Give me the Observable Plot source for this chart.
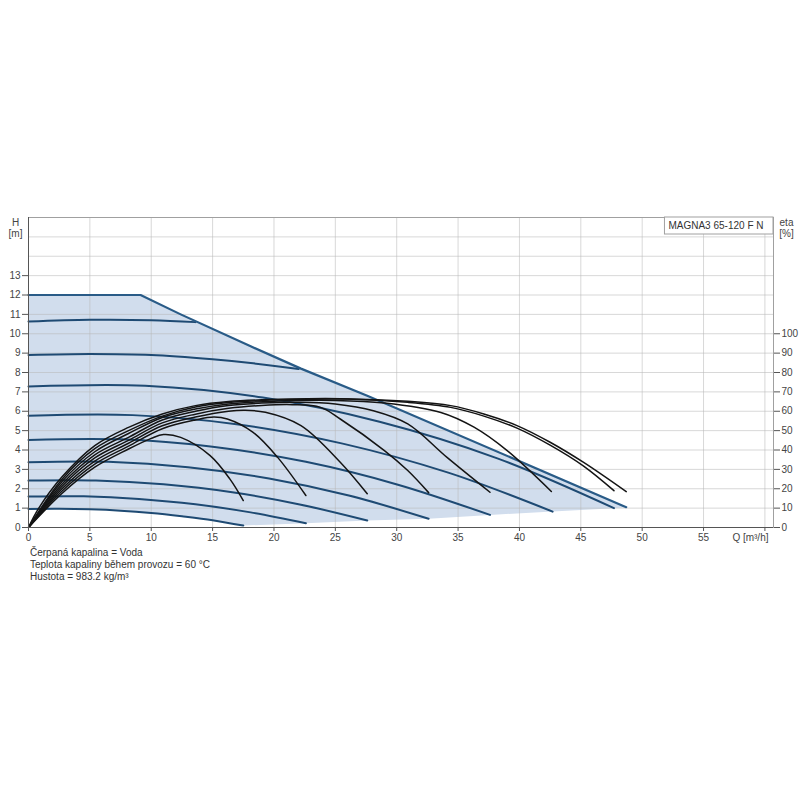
<!DOCTYPE html>
<html><head><meta charset="utf-8">
<script src="https://cdn.jsdelivr.net/npm/d3@7"></script>
<script src="https://cdn.jsdelivr.net/npm/@observablehq/plot@0.6"></script>
<style>
body{margin:0;background:#fff;font-family:"Liberation Sans",Arial,sans-serif;}
#wrap{position:relative;width:800px;height:800px;background:#fff;}
#cap{position:absolute;left:30px;top:547px;font-size:10px;line-height:12px;color:#333;}
</style></head><body>
<div id="wrap"><div id="cap">Čerpaná kapalina = Voda<br>Teplota kapaliny během provozu = 60 °C<br>Hustota = 983.2 kg/m³</div></div>
<script>
// ---- axes / ticks ----
const xTicks = [0,5,10,15,20,25,30,35,40,45,50,55,60];
const xGrid = [5,10,15,20,25,30,35,40,45,50,55,60];
const yTicks = [0,1,2,3,4,5,6,7,8,9,10,11,12,13];
const yGrid = [1,2,3,4,5,6,7,8,9,10,11,12,13,14,15];
const etaTicks = [0,10,20,30,40,50,60,70,80,90,100];
const title = "MAGNA3 65-120 F N";

// ---- max curve (upper limit of operating range) ----
const maxQ = [0, 9.13, 12.4, 18.1, 22.2, 27.6, 48.7];
const maxH = [12, 12, 11.0, 9.35, 8.2, 6.8, 1.05];

// ---- constant curves (Q in m3/h, H in m) ----
const curveQ = [
  [0, 2.5, 5, 7.5, 10, 12.5, 15, 17.5],
  [0, 4.5, 9, 13.6, 18.1, 22.6],
  [0, 5.5, 11, 16.6, 22.1, 27.6],
  [0, 6.5, 13, 19.6, 26.1, 32.6],
  [0, 7.5, 15, 22.6, 30.1, 37.6],
  [0, 8.5, 17.1, 25.6, 34.2, 42.7],
  [0, 9.5, 19.1, 28.6, 38.2, 47.7],
  [0, 5, 10, 15, 18.1, 22],
  [0, 5, 10, 13.6]
];
const curveH = [
  [0.96, 0.97, 0.94, 0.87, 0.75, 0.58, 0.38, 0.1],
  [1.6, 1.61, 1.475, 1.2, 0.78, 0.22],
  [2.42, 2.43, 2.23, 1.82, 1.19, 0.36],
  [3.37, 3.39, 3.11, 2.53, 1.65, 0.45],
  [4.52, 4.55, 4.17, 3.39, 2.21, 0.65],
  [5.77, 5.8, 5.32, 4.33, 2.83, 0.82],
  [7.28, 7.32, 6.71, 5.46, 3.57, 1.0],
  [8.9, 8.95, 8.9, 8.68, 8.49, 8.18],
  [10.63, 10.72, 10.7, 10.6]
];

// ---- efficiency curves (Q in m3/h, eta in %) ----
const effQ = [
  [0, 2.7, 5.4, 8.15, 10, 11, 12.4, 14.8, 16.4, 17.5],
  [0, 2.7, 5.4, 8.15, 10.9, 13.6, 15.1, 16.2, 18.3, 20.3, 22.6],
  [0, 2.7, 5.4, 8.15, 10.9, 13.6, 16.3, 17.6, 19.3, 22.2, 25.4, 27.6],
  [0, 2.7, 5.4, 8.15, 10.9, 13.6, 16.3, 19, 21.5, 23.8, 25.4, 29.0, 30.9, 32.6],
  [0, 2.7, 5.4, 8.15, 10.9, 13.6, 16.3, 19, 22, 25, 28.1, 30.9, 34.1, 37.6],
  [0, 2.7, 5.4, 8.15, 10.9, 13.6, 16.3, 20, 25, 29, 33.6, 36.3, 39.0, 42.6],
  [0, 2.7, 5.4, 8.15, 10.9, 13.6, 16.3, 21.2, 26, 30.9, 34.4, 37.1, 39.8, 42.5, 45.2, 47.7],
  [0, 0.8, 2.7, 5.4, 8.15, 10.9, 13.6, 16.3, 21.2, 25.4, 30.9, 34.4, 37.1, 39.8, 42.5, 45.2, 48.7]
];
const effEta = [
  [0, 17.4, 31.1, 40.5, 46, 48, 46.5, 37.1, 25.1, 13.9],
  [0, 18.6, 32.7, 42.0, 51.0, 55.5, 57.0, 56.0, 49.1, 36.2, 16.5],
  [0, 19.8, 34.3, 43.5, 52.5, 57.0, 60.0, 60.5, 59.5, 52.6, 33.7, 17.4],
  [0, 21.0, 35.9, 45.0, 54.0, 58.5, 61.5, 63.0, 63.4, 62.0, 56.0, 39.7, 29.4, 18.0],
  [0, 22.2, 37.5, 46.5, 55.5, 60.0, 63.0, 64.2, 64.7, 63.8, 60.3, 53.5, 36.2, 18.2],
  [0, 23.5, 39.1, 48.5, 56.8, 61.2, 63.8, 65.2, 65.6, 64.3, 59.4, 51.8, 39.7, 18.6],
  [0, 24.7, 40.7, 50.0, 57.5, 62.2, 64.5, 66.0, 66.3, 64.6, 62.0, 57.5, 51.3, 42.5, 31.8, 19.0],
  [0, 9.6, 25.9, 42.3, 51.7, 58.6, 62.9, 65.0, 66.3, 66.5, 65.1, 62.9, 58.6, 52.6, 44.0, 33.7, 18.5]
];
const etaPerMetre = 10; // right axis: 10 % per 1 m

// ---- build tables ----
const maxData = maxQ.map((q, i) => ({q, h: maxH[i]}));
const blueData = curveQ.flatMap((qs, k) => qs.map((q, i) => ({id: k, q, h: curveH[k][i]})));
const effData = effQ.flatMap((qs, k) => qs.map((q, i) => ({id: k, q, eta: effEta[k][i]})));
// shaded operating area: max curve, then end points of constant curves, then lowest curve back
const ends = curveQ.slice(0, 7).map((qs, k) => ({q: qs[qs.length - 1], h: curveH[k][qs.length - 1]})).reverse();
const lowest = curveQ[0].map((q, i) => ({q, h: curveH[0][i]})).reverse();
const shade = [...maxData, ...ends, ...lowest];

const font = "Liberation Sans, Arial, sans-serif";
const lbl = {text: d => d, fill: "#444", textAnchor: "middle", lineAnchor: "middle"};
const chart = Plot.plot({
  width: 800, height: 600,
  marginLeft: 28, marginRight: 27, marginTop: 217, marginBottom: 73,
  x: {domain: [0, 60.7]},
  y: {domain: [0, 16]},
  style: {fontFamily: font, fontSize: "10px", color: "#333", background: "white", overflow: "visible"},
  marks: [
    Plot.line(shade, {x: "q", y: "h", fill: "#d1dded", stroke: "none", curve: "linear"}),
    Plot.ruleX(xGrid, {stroke: "#b8b8b8", strokeOpacity: 0.55}),
    Plot.ruleY(yGrid, {stroke: "#b8b8b8", strokeOpacity: 0.55}),
    Plot.line(blueData, {x: "q", y: "h", z: "id", stroke: "#1e4a73", strokeWidth: 2, curve: "catmull-rom"}),
    Plot.line(maxData, {x: "q", y: "h", stroke: "#295b87", strokeWidth: 2.2, curve: "linear"}),
    Plot.line(effData, {x: "q", y: d => d.eta / etaPerMetre, z: "id", stroke: "#141414", strokeWidth: 1.5, curve: "catmull-rom"}),
    Plot.frame({stroke: "#a0a0a0"}),
    Plot.ruleX([0], {stroke: "#555"}),
    Plot.ruleY([0], {stroke: "#555"}),
    Plot.axisX(xTicks, {anchor: "bottom", tickSize: 4, tickPadding: 2, label: null, stroke: "#555", fill: "#444",
      tickFormat: d => d === 60 ? "" : d}),
    Plot.axisY(yTicks, {anchor: "left", tickSize: 6, tickPadding: 2, label: null, stroke: "#555", fill: "#444"}),
    Plot.axisY(etaTicks.map(e => e / etaPerMetre), {anchor: "right", tickSize: 6, tickPadding: 2, label: null,
      stroke: "#555", fill: "#444", tickFormat: d => Math.round(d * etaPerMetre)}),
    Plot.text(["H"], {...lbl, frameAnchor: "top-left", dx: -13, dy: 5}),
    Plot.text(["[m]"], {...lbl, frameAnchor: "top-left", dx: -13, dy: 16}),
    Plot.text(["eta"], {...lbl, frameAnchor: "top-right", dx: 13, dy: 5}),
    Plot.text(["[%]"], {...lbl, frameAnchor: "top-right", dx: 13, dy: 16}),
    Plot.text(["Q [m³/h]"], {...lbl, frameAnchor: "bottom-right", dx: -5, dy: 10, textAnchor: "end"}),
    Plot.text([title], {...lbl, frameAnchor: "top-right", dx: -10, dy: 8.5, textAnchor: "end", fill: "#333"})
  ]
});
const wrap = document.getElementById("wrap");
wrap.insertBefore(chart, wrap.firstChild);
// box around the product name (drawn in root SVG coordinates, behind the text group)
const sRect = chart.getBoundingClientRect();
d3.select(chart).selectAll("text").each(function() {
  if (this.textContent === title) {
    const r = this.getBoundingClientRect();
    const x0 = r.left - sRect.left - 4;
    const rect = document.createElementNS("http://www.w3.org/2000/svg", "rect");
    rect.setAttribute("x", x0);
    rect.setAttribute("y", 217);
    rect.setAttribute("width", 773 - x0);
    rect.setAttribute("height", 17);
    rect.setAttribute("fill", "white");
    rect.setAttribute("stroke", "#a0a0a0");
    let g = this;
    while (g.parentNode !== chart) g = g.parentNode;
    chart.insertBefore(rect, g);
  }
});
</script>
</body></html>
